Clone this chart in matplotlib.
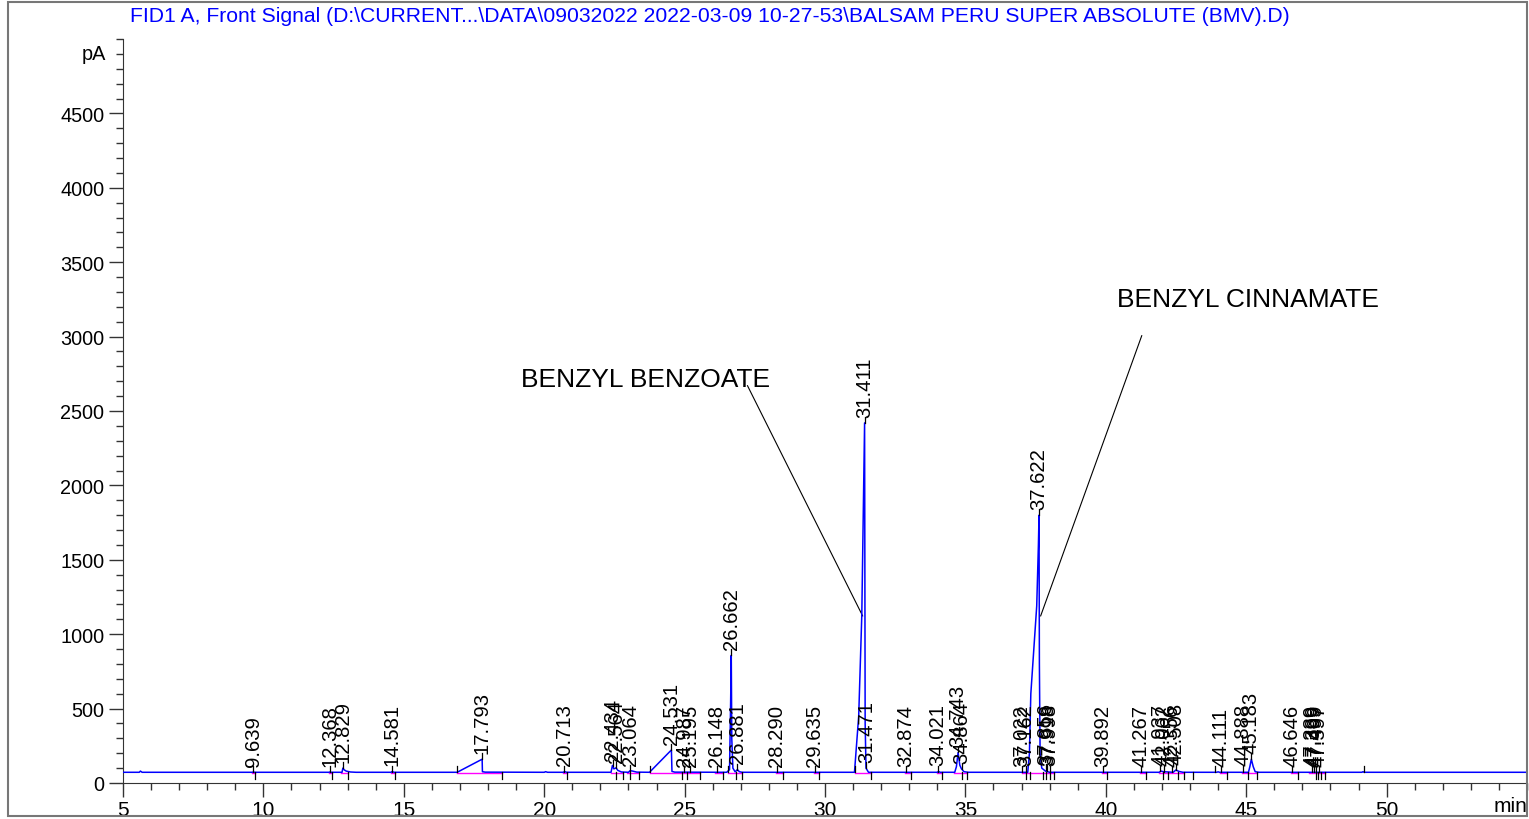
import matplotlib.pyplot as plt
from matplotlib.patches import Rectangle

plt.rcParams['font.family'] = ['Liberation Sans', 'DejaVu Sans']

TITLE = ("FID1 A, Front Signal (D:\\CURRENT...\\DATA\\09032022 2022-03-09 10-27-53"
         "\\BALSAM PERU SUPER ABSOLUTE (BMV).D)")

# signal trace, vertices (min, pA)
sig_t = [5.0, 5.58, 5.62, 5.68, 9.60, 9.64, 9.70, 12.33, 12.37, 12.42,
         12.80, 12.83, 12.88, 12.95, 13.1, 13.3, 14.55, 14.58, 14.66, 16.90,
         17.79, 17.80, 17.9, 20.0, 20.05, 20.12, 20.68, 20.72, 20.8, 22.38,
         22.43, 22.48, 22.56, 22.62, 22.75, 23.0, 23.06, 23.15, 23.3, 23.75,
         24.53, 24.55, 24.65, 26.50, 26.60, 26.64, 26.662, 26.68, 26.72, 26.80,
         26.88, 26.95, 27.05, 31.05, 31.2, 31.31, 31.41, 31.43, 31.46, 31.55,
         34.00, 34.04, 34.1, 34.62, 34.68, 34.74, 34.80, 34.86, 34.95, 35.1,
         37.22, 37.28, 37.33, 37.54, 37.60, 37.622, 37.635, 37.66, 37.72, 37.85,
         38.0, 41.9, 41.97, 42.05, 42.4, 42.5, 42.6, 42.75, 43.95, 44.0,
         44.05, 45.08, 45.13, 45.183, 45.25, 45.32, 45.45, 49.12, 49.16, 49.2,
         55.0]
sig_pa = [72, 72, 80, 72, 72, 74, 72, 72, 74, 72,
          72, 100, 88, 80, 74, 72, 72, 77, 72, 72,
          160, 76, 73, 72, 76, 72, 72, 77, 72, 72,
          118, 95, 102, 85, 74, 72, 83, 80, 73, 72,
          222, 78, 73, 72, 90, 550, 858, 300, 100, 75,
          90, 76, 72, 72, 450, 1123, 2420, 400, 100, 72,
          72, 78, 72, 72, 110, 205, 120, 95, 76, 72,
          72, 200, 600, 1190, 1600, 1800, 800, 200, 100, 80,
          72, 72, 80, 76, 72, 88, 78, 72, 72, 75,
          72, 72, 110, 160, 110, 76, 72, 72, 76, 72,
          72]

# peak labels (retention time) and the signal height they sit on
peak_rt = [9.639, 12.368, 12.829, 14.581, 17.793, 20.713, 22.434, 22.564,
           23.064, 24.531, 24.987, 25.195, 26.148, 26.662, 26.881, 28.290,
           29.635, 31.411, 31.471, 32.874, 34.021, 34.743, 34.864, 37.022,
           37.162, 37.622, 37.856, 37.918, 37.998, 39.892, 41.267, 41.937,
           42.062, 42.356, 42.508, 44.111, 44.888, 45.183, 46.646, 47.339,
           47.399, 47.499, 47.597]
peak_top = [74, 74, 100, 76, 160, 76, 115, 100,
            82, 222, 74, 74, 74, 858, 90, 74,
            74, 2420, 100, 74, 76, 205, 95, 74,
            76, 1800, 85, 80, 76, 74, 75, 80,
            76, 74, 88, 74, 76, 160, 74, 74,
            74, 75, 74]

# integration start / end marks
start_marks = [16.90, 23.76, 26.53, 31.06, 43.88, 49.18]
end_marks = [9.70, 12.45, 13.0, 14.70, 18.50, 20.80, 22.57, 22.80, 23.05, 23.37,
             24.92, 25.07, 25.55, 26.35, 26.84, 27.03, 28.50, 29.80, 31.63,
             33.06, 34.18, 34.89, 35.07, 37.17, 37.29, 37.76, 37.88, 38.00,
             38.16, 40.06, 41.42, 42.05, 42.22, 42.57, 42.79, 43.11, 44.31,
             45.05, 45.37, 46.83, 47.48, 47.56, 47.68, 47.81]
base_from = [9.60, 12.33, 12.78, 14.55, 16.90, 20.68, 22.38, 22.95, 23.76,
             26.10, 26.53, 28.25, 29.60, 31.06, 32.85, 34.00, 34.60, 37.00,
             39.85, 41.22, 41.90, 44.05, 44.85, 46.60, 47.25]
base_to = [9.70, 12.45, 13.0, 14.70, 18.50, 20.80, 22.80, 23.37, 25.55,
           26.35, 27.03, 28.50, 29.80, 31.63, 33.06, 34.18, 35.07, 38.16,
           40.06, 41.42, 42.79, 44.31, 45.37, 46.83, 47.81]

BASE = 72

fig = plt.figure(figsize=(15.29, 8.2), dpi=100)
ax = fig.add_axes([123 / 1529, 36 / 820, (1527 - 123) / 1529, (784 - 40) / 820])

for a, b in zip(base_from, base_to):
    ax.plot([a, b], [BASE - 6, BASE - 6], color='#ff00ff', lw=1.0, zorder=2)
ax.plot(sig_t, sig_pa, color='#0000ff', lw=1.1, zorder=3)

for t in end_marks:
    ax.plot([t, t], [BASE, BASE - 45], color='black', lw=0.9, zorder=4)
for t in start_marks:
    ax.plot([t, t], [BASE, BASE + 45], color='black', lw=0.9, zorder=4)

for rt, top in zip(peak_rt, peak_top):
    ax.plot([rt, rt], [top, top + 40], color='black', lw=0.9, zorder=4)
    ax.text(rt, top + 42, f'{rt:.3f}', rotation=90, ha='center', va='bottom',
            fontsize=14.6, color='black', zorder=5)

# compound annotations
ax.text(19.16, 2717, 'BENZYL BENZOATE', fontsize=19, ha='left', va='center')
ax.plot([27.24, 31.34], [2670, 1123], color='black', lw=0.8)
ax.text(40.39, 3255, 'BENZYL CINNAMATE', fontsize=19, ha='left', va='center')
ax.plot([41.28, 37.68], [3006, 1123], color='black', lw=0.8)

ax.set_xlim(5, 55)
ax.set_ylim(0, 5000)
ax.set_xticks(range(5, 55, 5))
ax.set_xticks(range(5, 56), minor=True)
ax.set_yticks(range(0, 5000, 500))
ax.set_yticks(range(0, 5001, 100), minor=True)
ax.tick_params(axis='both', which='major', length=10, width=1,
               color='#333333', direction='out')
ax.tick_params(axis='both', which='minor', length=5, width=1, color='#333333')
ax.tick_params(axis='x', which='major', labelsize=15, pad=2)
ax.tick_params(axis='y', which='major', labelsize=14.3)
for s in ['top', 'right']:
    ax.spines[s].set_visible(False)
for s in ['left', 'bottom']:
    ax.spines[s].set_color('#333333')
ax.text(-0.012, 4900, 'pA', transform=ax.get_yaxis_transform(), ha='right',
        va='center', fontsize=14.3)
ax.text(55, -150, 'min', ha='right', va='center', fontsize=15)

fig.text(130 / 1529, 1 - 17 / 820, TITLE, color='#0000ff', fontsize=15.2,
         ha='left', va='center')
fig.patches.append(Rectangle((8 / 1529, 3 / 820), 1519 / 1529, 814 / 820,
                             transform=fig.transFigure, fill=False,
                             edgecolor='#777777', lw=1.5))

fig.savefig('out.png', dpi=100)
